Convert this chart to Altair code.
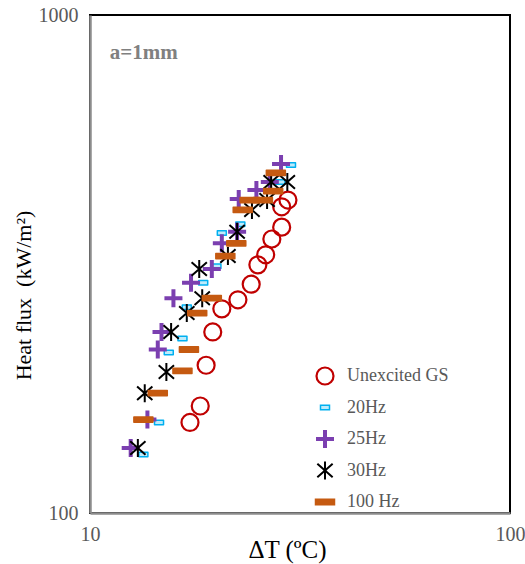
import altair as alt
import pandas as pd

series_names = ["Unexcited GS", "20Hz", "25Hz", "30Hz", "100 Hz"]

gs_dt = [17.3, 18.3, 18.9, 19.6, 20.6, 22.5, 24.2, 25.1, 26.2, 27.1, 28.6, 28.6, 29.6]
gs_q = [152, 164, 198, 231, 257, 268, 288, 315, 330, 355, 375, 412, 425]

hz20_dt = [13.4, 14.6, 15.4, 16.6, 17.0, 18.6, 20.0, 20.6, 22.8, 28.4, 30.1]
hz20_q = [131, 152, 210, 224, 259, 290, 313, 365, 380, 462, 500]

hz25_dt = [12.5, 13.7, 14.5, 14.8, 15.8, 17.4, 19.5, 20.6, 22.4, 22.6, 24.9, 26.8, 28.5]
hz25_q = [135, 154, 213, 231, 270, 290, 309, 348, 367, 427, 445, 462, 502]

hz30_dt = [13.0, 13.5, 15.2, 15.6, 17.0, 18.5, 18.2, 21.3, 22.4, 24.3, 26.4, 27.0, 29.5]
hz30_q = [135, 174, 192, 231, 252, 270, 309, 328, 367, 406, 425, 462, 462]

hz100_dt = [13.4, 14.5, 16.6, 17.2, 18.0, 19.5, 21.0, 22.3, 23.1, 24.0, 25.8, 27.3, 27.7]
hz100_q = [154, 174, 193, 213, 252, 270, 328, 348, 406, 425, 425, 443, 482]

x_ticks = [10, 100]
y_ticks = [100, 1000]

annotation = "a=1mm"
ann_dt = [11.15]
ann_q = [838]

rows = []
for name, xs, ys in zip(series_names,
                        [gs_dt, hz20_dt, hz25_dt, hz30_dt, hz100_dt],
                        [gs_q, hz20_q, hz25_q, hz30_q, hz100_q]):
    for a, b in zip(xs, ys):
        rows.append({"series": name, "dT": a, "q": b})
df = pd.DataFrame(rows)

shapes = [
    "circle",
    "M-1,-0.5H1V0.5H-1Z",
    "M-1,0H1M0,-1V1",
    "M0,-1V1M-0.85,-0.75L0.85,0.75M-0.85,0.75L0.85,-0.75",
    "M-1,-0.28H1V0.28H-1Z",
]
strokes = ["#C00000", "#00B0F0", "#7B3FB0", "#000000", "#C55A11"]
fills = ["transparent", "#BDEBFB", "transparent", "transparent", "#C55A11"]
sizes = [289, 81, 324, 324, 361]
widths = [2.2, 1.5, 4, 2, 1.5]

dom = series_names
leg = alt.Legend(
    title=None, orient="none", legendX=224, legendY=351,
    labelFont="Liberation Serif", labelFontSize=18, labelColor="#595959",
    rowPadding=11.5, labelOffset=11, padding=0, clipHeight=20,
)

x = alt.X("dT:Q", scale=alt.Scale(type="log", domain=[10, 100]),
          axis=alt.Axis(values=x_ticks, format="d", title="ΔT (ºC)",
                        labelPadding=11, titleFontSize=25,
                        titleX=197, titleY=36, titleBaseline="middle"))
y = alt.Y("q:Q", scale=alt.Scale(type="log", domain=[100, 1000]),
          axis=alt.Axis(values=y_ticks, format="d", title="Heat flux\u00a0 (kW/m²)",
                        labelPadding=12, titleFontSize=22,
                        titleX=-67, titleY=280, titleBaseline="middle",
                        titleAngle=-90, titleAlign="center"))

points = alt.Chart(df).mark_point(opacity=1, strokeJoin="round").encode(
    x=x, y=y,
    shape=alt.Shape("series:N", scale=alt.Scale(domain=dom, range=shapes), legend=leg),
    stroke=alt.Stroke("series:N", scale=alt.Scale(domain=dom, range=strokes), legend=leg),
    fill=alt.Fill("series:N", scale=alt.Scale(domain=dom, range=fills), legend=leg),
    size=alt.Size("series:N", scale=alt.Scale(type="ordinal", domain=dom, range=sizes), legend=leg),
    strokeWidth=alt.StrokeWidth("series:N", scale=alt.Scale(type="ordinal", domain=dom, range=widths), legend=leg),
)

ann_df = pd.DataFrame({"dT": ann_dt, "q": ann_q, "t": [annotation]})
ann = alt.Chart(ann_df).mark_text(
    align="left", baseline="middle", font="Liberation Serif", fontSize=21,
    fontWeight="bold", color="#808080"
).encode(x=alt.X("dT:Q"), y=alt.Y("q:Q"), text="t:N")

chart = alt.layer(points, ann).properties(
    width=420, height=498,
    autosize=alt.AutoSizeParams(type="none"),
    padding={"left": 90, "top": 15, "right": 15, "bottom": 51},
).configure_view(
    stroke="#000000", strokeWidth=2
).configure_axis(
    grid=False, ticks=False, labelFlush=False,
    labelFont="Liberation Serif", labelFontSize=20, labelColor="#595959",
    titleFont="Liberation Serif", titleFontWeight="normal", titleColor="#000000",
    domainColor="#8C8C8C", domainWidth=2.5,
)

chart.save("out.html", embed_options={"renderer": "svg", "actions": False})
